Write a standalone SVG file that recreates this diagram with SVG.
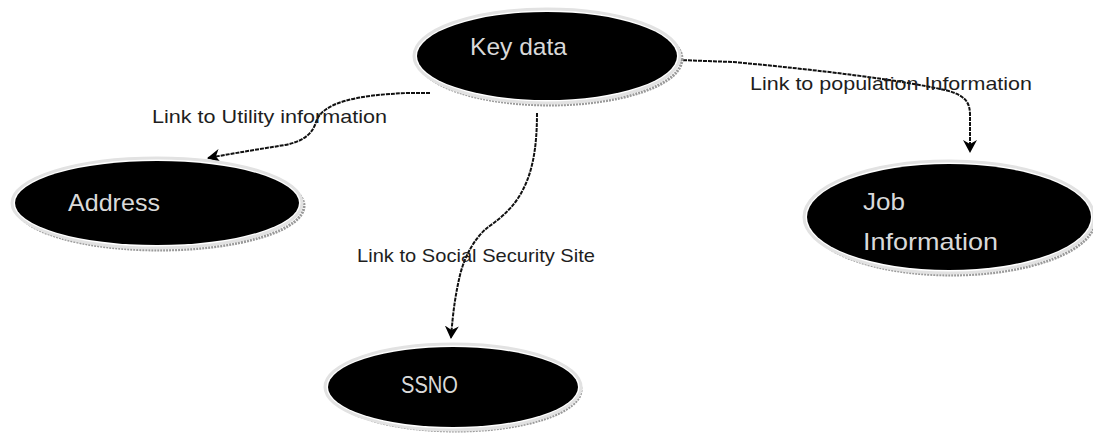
<svg xmlns="http://www.w3.org/2000/svg" width="1093" height="443" viewBox="0 0 1093 443">
<defs>
<style>
.shadow{fill:none;stroke:#9a9a9a;stroke-width:3;stroke-dasharray:2 1}
.halo{fill:#ffffff;stroke:#e2e2e2;stroke-width:3}
.node{fill:#000000}
.ntxt{font-family:"Liberation Sans",Arial,sans-serif;font-size:24px;fill:#d9d9d9}
.ltxt{font-family:"Liberation Sans",Arial,sans-serif;font-size:19px;fill:#1e1e1e}
.conn{fill:none;stroke:#111111;stroke-width:2;stroke-dasharray:4 1}
</style>
<marker id="arr" markerWidth="14" markerHeight="14" refX="12" refY="7" orient="auto" markerUnits="userSpaceOnUse">
<path d="M0,0 L13,7 L0,14 L4,7 Z" fill="#000"/>
</marker>
</defs>
<rect width="1093" height="443" fill="#ffffff"/>
<g id="connectors">
<path class="conn" d="M430,93 L408,93 C355,95 322,103 316,122 C312,136 300,142 285,145 C260,149 235,153 208,158" marker-end="url(#arr)"/>
<path class="conn" d="M678,60 L733,62 C820,70 900,80 945,90 C965,95 970,102 970,115 L970,152" marker-end="url(#arr)"/>
<path class="conn" d="M537,113 C537,150 532,175 520,195 C510,212 495,222 487,228 C475,238 465,255 460,275 C456,292 453,310 451,338" marker-end="url(#arr)"/>
</g>
<g id="key-data">
<ellipse class="shadow" cx="550" cy="59" rx="132" ry="46"/>
<ellipse class="halo" cx="547" cy="56" rx="133" ry="47"/>
<ellipse class="node" cx="547" cy="56" rx="130" ry="44"/>
<text class="ntxt" x="470" y="55" textLength="97" lengthAdjust="spacingAndGlyphs">Key data</text>
</g>
<g id="address">
<ellipse class="shadow" cx="160" cy="206" rx="144" ry="44"/>
<ellipse class="halo" cx="157" cy="203" rx="145" ry="45"/>
<ellipse class="node" cx="157" cy="203" rx="142" ry="42"/>
<text class="ntxt" x="68" y="211" textLength="92" lengthAdjust="spacingAndGlyphs">Address</text>
</g>
<g id="job-information">
<ellipse class="shadow" cx="952" cy="220" rx="143" ry="55"/>
<ellipse class="halo" cx="949" cy="217" rx="145" ry="56"/>
<ellipse class="node" cx="949" cy="217" rx="142" ry="53"/>
<text class="ntxt" x="863" y="210" textLength="42" lengthAdjust="spacingAndGlyphs">Job</text>
<text class="ntxt" x="863" y="250" textLength="135" lengthAdjust="spacingAndGlyphs">Information</text>
</g>
<g id="ssno">
<ellipse class="shadow" cx="456" cy="390" rx="125" ry="41"/>
<ellipse class="halo" cx="453" cy="387" rx="128" ry="43"/>
<ellipse class="node" cx="453" cy="387" rx="125" ry="40"/>
<text class="ntxt" x="401" y="393" style="font-size:23px" textLength="57" lengthAdjust="spacingAndGlyphs">SSNO</text>
</g>
<g id="labels">
<text class="ltxt" x="152" y="123" textLength="235" lengthAdjust="spacingAndGlyphs">Link to Utility information</text>
<text class="ltxt" x="750" y="90" textLength="282" lengthAdjust="spacingAndGlyphs">Link to population Information</text>
<text class="ltxt" x="357" y="262" textLength="238" lengthAdjust="spacingAndGlyphs">Link to Social Security Site</text>
</g>
</svg>
